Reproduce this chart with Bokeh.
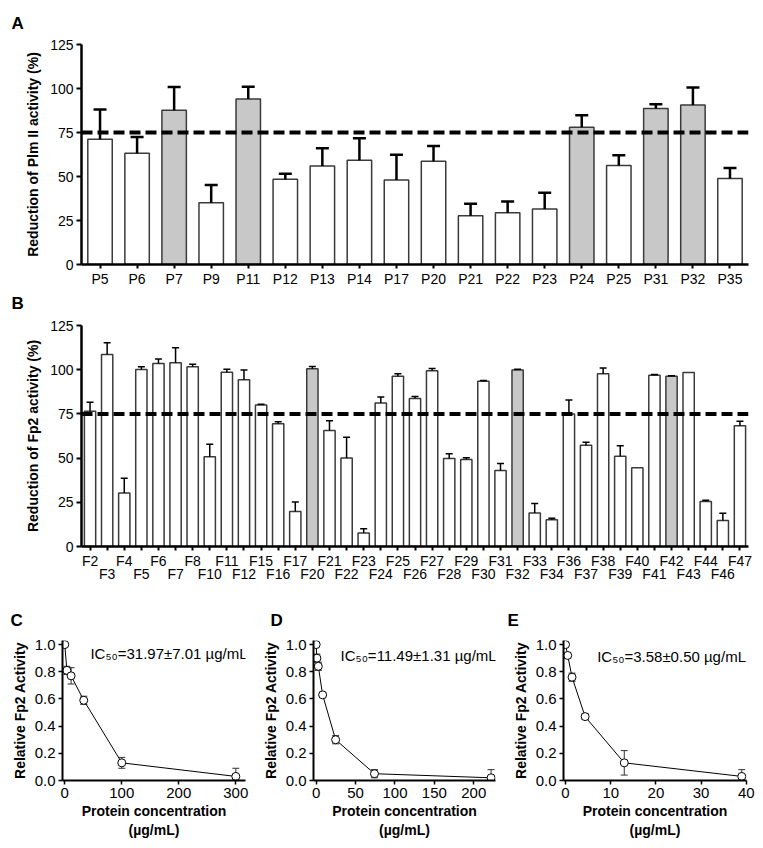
from bokeh.plotting import figure
from bokeh.layouts import column, row
from bokeh.models import (ColumnDataSource, FixedTicker, Span, Label, LinearAxis,
                          Range1d, NumeralTickFormatter, Whisker, TeeHead, Title)
from bokeh.embed import file_html
from bokeh.resources import INLINE

FONT = "Liberation Sans"

# ---------------- data ----------------
a_labels = ["P5", "P6", "P7", "P9", "P11", "P12", "P13", "P14", "P17", "P20",
            "P21", "P22", "P23", "P24", "P25", "P31", "P32", "P35"]
a_values = [71.2, 63.2, 87.6, 35.1, 94.0, 48.5, 56.0, 59.3, 48.0, 58.7,
            27.7, 29.4, 31.5, 78.0, 56.2, 88.7, 90.6, 48.9]
a_errors = [16.8, 9.3, 13.2, 10.0, 7.0, 3.0, 10.0, 12.4, 14.3, 8.7,
            6.8, 6.4, 9.3, 6.8, 5.9, 2.3, 10.0, 6.0]
a_selected = ["P7", "P11", "P24", "P31", "P32"]

b_labels = ["F2", "F3", "F4", "F5", "F6", "F7", "F8", "F10", "F11", "F12",
            "F15", "F16", "F17", "F20", "F21", "F22", "F23", "F24", "F25", "F26",
            "F27", "F28", "F29", "F30", "F31", "F32", "F33", "F34", "F36", "F37",
            "F38", "F39", "F40", "F41", "F42", "F43", "F44", "F46", "F47"]
b_values = [76.5, 108.6, 30.2, 100.1, 103.5, 103.9, 101.6, 50.7, 98.6, 94.3,
            80.1, 69.4, 19.8, 100.5, 65.6, 50.0, 7.7, 81.1, 96.3, 83.7,
            99.4, 49.8, 49.2, 93.5, 43.0, 99.9, 19.0, 15.1, 75.0, 57.3,
            97.7, 51.1, 44.5, 96.9, 96.3, 98.4, 25.5, 14.7, 68.3]
b_errors = [5.1, 6.6, 8.4, 1.5, 2.5, 8.5, 1.5, 7.2, 1.7, 5.6,
            0.4, 1.1, 5.3, 1.3, 5.5, 11.8, 2.3, 3.4, 1.4, 1.1,
            1.3, 2.6, 1.0, 0.4, 3.9, 0.4, 5.3, 0.9, 7.8, 1.7,
            3.2, 5.9, 0.0, 0.4, 0.3, 0.0, 0.7, 4.1, 2.6]
b_selected = ["F20", "F32", "F42"]

threshold = 75
bar_ticks = [0, 25, 50, 75, 100, 125]

c_conc = [0, 3.7, 11.1, 33.3, 100, 300]
c_activity = [1.00, 0.81, 0.77, 0.59, 0.13, 0.03]
c_sd = [0.0, 0.03, 0.06, 0.03, 0.04, 0.06]
c_ic50 = "IC₅₀=31.97±7.01 µg/mL"
c_xticks = [0, 100, 200, 300]

d_conc = [0, 0.9, 2.7, 8.2, 24.7, 74, 222]
d_activity = [1.00, 0.90, 0.84, 0.63, 0.30, 0.05, 0.02]
d_sd = [0.0, 0.03, 0.03, 0.02, 0.03, 0.03, 0.06]
d_ic50 = "IC₅₀=11.49±1.31 µg/mL"
d_xticks = [0, 50, 100, 150, 200]

e_conc = [0, 0.48, 1.44, 4.33, 13, 39]
e_activity = [1.00, 0.92, 0.76, 0.47, 0.13, 0.03]
e_sd = [0.0, 0.02, 0.03, 0.02, 0.09, 0.05]
e_ic50 = "IC₅₀=3.58±0.50 µg/mL"
e_xticks = [0, 10, 20, 30, 40]

act_ticks = [0, 0.2, 0.4, 0.6, 0.8, 1.0]


def style_axis(ax, line_w, tick_w, tick_out, fs="14px"):
    ax.axis_line_width = line_w
    ax.axis_line_color = "black"
    ax.major_tick_line_width = tick_w
    ax.major_tick_line_color = "black"
    ax.major_tick_out = tick_out
    ax.major_tick_in = 0
    ax.minor_tick_line_color = None
    ax.major_label_text_font = FONT
    ax.major_label_text_font_size = fs
    ax.major_label_text_color = "black"
    ax.axis_label_text_font = FONT
    ax.axis_label_text_font_size = "14px"
    ax.axis_label_text_font_style = "bold"
    ax.axis_label_text_color = "black"


def letter_title(letter, offset, standoff):
    return Title(text=letter, align="left", offset=offset, standoff=standoff,
                 text_font=FONT, text_font_size="17px", text_font_style="bold",
                 text_color="black")


def bar_panel(labels, values, errors, selected, ylabel,
              width, height, borders, two_rows, bar_line_w, err_w, cap, axis_w):
    n = len(labels)
    xs = list(range(1, n + 1))
    fills = ["#c8c8c8" if lab in selected else "white" for lab in labels]
    src = ColumnDataSource(dict(x=xs, top=values, fill=fills))
    p = figure(width=width, height=height, x_range=Range1d(0.5, n + 0.5),
               y_range=Range1d(0, 125), output_backend="svg", toolbar_location=None,
               title=None,
               min_border_left=borders[0], min_border_right=borders[1],
               min_border_top=borders[2], min_border_bottom=borders[3])
    p.grid.visible = False
    p.outline_line_color = None
    p.vbar(x="x", top="top", bottom=0, width=0.66, fill_color="fill",
           line_color="#3a3a3a", line_width=bar_line_w, source=src)

    ex = [x for x, e in zip(xs, errors) if e > 0]
    lo = [v for v, e in zip(values, errors) if e > 0]
    up = [v + e for v, e in zip(values, errors) if e > 0]
    wsrc = ColumnDataSource(dict(base=ex, lower=lo, upper=up))
    p.add_layout(Whisker(source=wsrc, base="base", lower="lower", upper="upper",
                         dimension="height", line_width=err_w, line_color="black",
                         lower_head=None,
                         upper_head=TeeHead(size=cap, line_width=err_w, line_color="black"),
                         level="annotation"))
    p.add_layout(Span(location=threshold, dimension="width", line_color="black",
                      line_width=4, line_dash="11 5"))

    ya = p.yaxis[0]
    ya.ticker = FixedTicker(ticks=bar_ticks)
    ya.axis_label = ylabel
    ya.major_label_standoff = 3
    ya.axis_label_standoff = 6
    style_axis(ya, axis_w, 2, 5)

    xa = p.xaxis[0]
    xa.ticker = FixedTicker(ticks=xs)
    style_axis(xa, axis_w, 2, 4)
    xa.major_label_standoff = 2
    if two_rows:
        xa.major_label_overrides = {x: (lab if i % 2 == 0 else "")
                                    for i, (x, lab) in enumerate(zip(xs, labels))}
        xa2 = LinearAxis(ticker=FixedTicker(ticks=xs),
                         major_label_overrides={x: (lab if i % 2 == 1 else "")
                                                for i, (x, lab) in enumerate(zip(xs, labels))})
        style_axis(xa2, 0, 0, 0)
        xa2.axis_line_color = None
        xa2.major_tick_line_color = None
        xa2.major_label_standoff = -6
        p.add_layout(xa2, "below")
    else:
        xa.major_label_overrides = {x: lab for x, lab in zip(xs, labels)}
    return p


def curve_panel(conc, act, sd, ic50, ic50_pos, xticks, x_range, letter, letter_offset,
                width, height, borders):
    p = figure(width=width, height=height, x_range=Range1d(*x_range),
               y_range=Range1d(0, 1.03), output_backend="svg", toolbar_location=None,
               title=None,
               min_border_left=borders[0], min_border_right=borders[1],
               min_border_top=borders[2], min_border_bottom=borders[3])
    p.grid.visible = False
    p.outline_line_color = None
    p.line(conc, act, line_color="black", line_width=1)
    ex = [c for c, s in zip(conc, sd) if s > 0]
    lo = [a - s for a, s in zip(act, sd) if s > 0]
    up = [a + s for a, s in zip(act, sd) if s > 0]
    wsrc = ColumnDataSource(dict(base=ex, lower=lo, upper=up))
    p.add_layout(Whisker(source=wsrc, base="base", lower="lower", upper="upper",
                         dimension="height", line_width=1, line_color="#333333",
                         lower_head=TeeHead(size=7, line_width=1, line_color="#333333"),
                         upper_head=TeeHead(size=7, line_width=1, line_color="#333333"),
                         level="underlay"))
    p.scatter(conc, act, marker="circle", size=8, fill_color="white",
              line_color="black", line_width=1)
    p.add_layout(Label(x=ic50_pos[0], y=ic50_pos[1], text=ic50, text_font=FONT,
                       text_font_size="15px", text_baseline="middle",
                       text_align="left", text_color="black"))

    ya = p.yaxis[0]
    ya.ticker = FixedTicker(ticks=act_ticks)
    ya.formatter = NumeralTickFormatter(format="0.0")
    ya.axis_label = "Relative Fp2 Activity"
    ya.major_label_standoff = 3
    ya.axis_label_standoff = 4
    style_axis(ya, 2, 1.5, 4, "15px")

    xa = p.xaxis[0]
    xa.ticker = FixedTicker(ticks=xticks)
    xa.axis_label = "Protein concentration"
    xa.major_label_standoff = 3
    xa.axis_label_standoff = 2
    style_axis(xa, 2, 1.5, 4, "15px")

    xa2 = LinearAxis(ticker=FixedTicker(ticks=[]), axis_label="(µg/mL)")
    style_axis(xa2, 0, 0, 0)
    xa2.axis_line_color = None
    xa2.major_label_standoff = 0
    xa2.axis_label_standoff = 0
    p.add_layout(xa2, "below")
    p.add_layout(letter_title(letter, letter_offset, 21), "above")
    return p


pA = bar_panel(a_labels, a_values, a_errors, a_selected,
               "Reduction of Plm II activity (%)",
               755, 314, (80, 6, 43, 50), False, 1.5, 2.5, 13, 2.5)
pA.add_layout(letter_title("A", -70, 23), "above")
pA.add_layout(letter_title("B", -70, 4), "below")

pB = bar_panel(b_labels, b_values, b_errors, b_selected,
               "Reduction of Fp2 activity (%)",
               755, 272, (81, 7, 11, 40), True, 1.5, 1.5, 7, 2.5)

pC = curve_panel(c_conc, c_activity, c_sd, c_ic50, (45, 0.935), c_xticks,
                 (-4, 317), "C", -52, 258, 254, (62, 13, 54, 60))
pD = curve_panel(d_conc, d_activity, d_sd, d_ic50, (31, 0.92), d_xticks,
                 (-3.4, 227.6), "D", -43, 250, 254, (55, 13, 54, 60))
pE = curve_panel(e_conc, e_activity, e_sd, e_ic50, (7.0, 0.91), e_xticks,
                 (-0.45, 40.05), "E", -56, 247, 254, (55, 9, 54, 60))

layout = column(pA, pB, row(pC, pD, pE))
open("out.html", "w").write(file_html(layout, INLINE))
